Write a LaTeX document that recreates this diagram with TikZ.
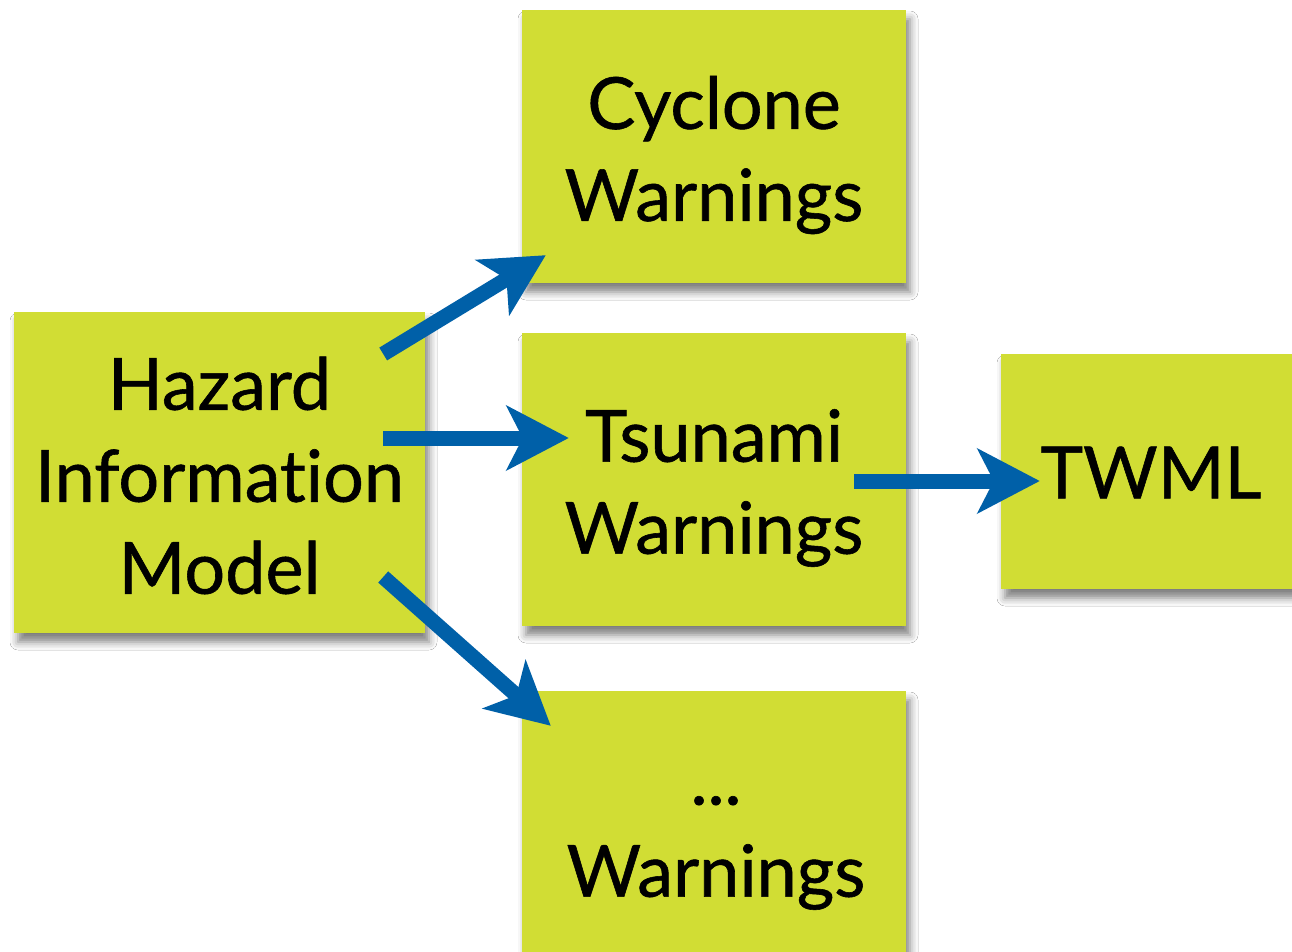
\documentclass[tikz,border=0pt]{standalone}
\usepackage{fontspec}
\setmainfont{Lato}[Ligatures=NoCommon, FakeBold=0.8]
\usetikzlibrary{arrows.meta,shadows.blur,calc}
\definecolor{boxfill}{RGB}{209,221,52}
\definecolor{arrblue}{RGB}{0,96,168}
\tikzset{
  greenbox/.style={rectangle, fill=boxfill, inner sep=0pt,
    blur shadow={shadow xshift=4pt, shadow yshift=-9pt, shadow blur radius=8pt, shadow opacity=50}},
  boxtext/.style={font=\fontsize{72}{92}\selectfont, align=center, text=black, inner sep=0pt},
  arr/.style={draw=arrblue, line width=15pt,
    -{Stealth[length=62pt, width=64pt, inset=16pt, fill=arrblue]}}
}
\begin{document}
\begin{tikzpicture}[x=1pt,y=-1pt]
\useasboundingbox (0,0) rectangle (1292,952);
\fill[white] (0,0) rectangle (1292,952);
\node[greenbox, minimum width=411pt, minimum height=321pt] (haz) at (219.5,472.5) {};
\node[greenbox, minimum width=384pt, minimum height=273pt] (cyc) at (714,146.5) {};
\node[greenbox, minimum width=384pt, minimum height=293pt] (tsu) at (714,479.5) {};
\node[greenbox, minimum width=384pt, minimum height=300pt] (oth) at (714,841) {};
\node[greenbox, minimum width=300pt, minimum height=235pt] (twml) at (1151,471.5) {};
\node[boxtext] (haztext) at ($(haz.center)+(0,3)$) {Hazard\\Information\\Model};
\node[boxtext] (cyctext) at ($(cyc.center)+(0,8.5)$) {Cyclone\\Warnings};
\node[boxtext] (tsutext) at ($(tsu.center)+(0,8.5)$) {Tsunami\\Warnings};
\node[boxtext] (othtext) at (716,853) {...\\Warnings};
\node[boxtext] (twmltext) at ($(twml.center)+(0,1)$) {TWML};
\draw[arr] ($(haz.east)+(-42,-118.5)$) -- ($(cyc.south west)+(24,-28)$);
\draw[arr] ($(haz.east)+(-42,-34.5)$) -- ($(tsu.west)+(47,-41.5)$);
\draw[arr] ($(haz.east)+(-42,104.5)$) -- ($(oth.north west)+(29,35)$);
\draw[arr] ($(tsu.east)+(-52,1.5)$) -- ($(twml.west)+(39,9.5)$);
\end{tikzpicture}
\end{document}
